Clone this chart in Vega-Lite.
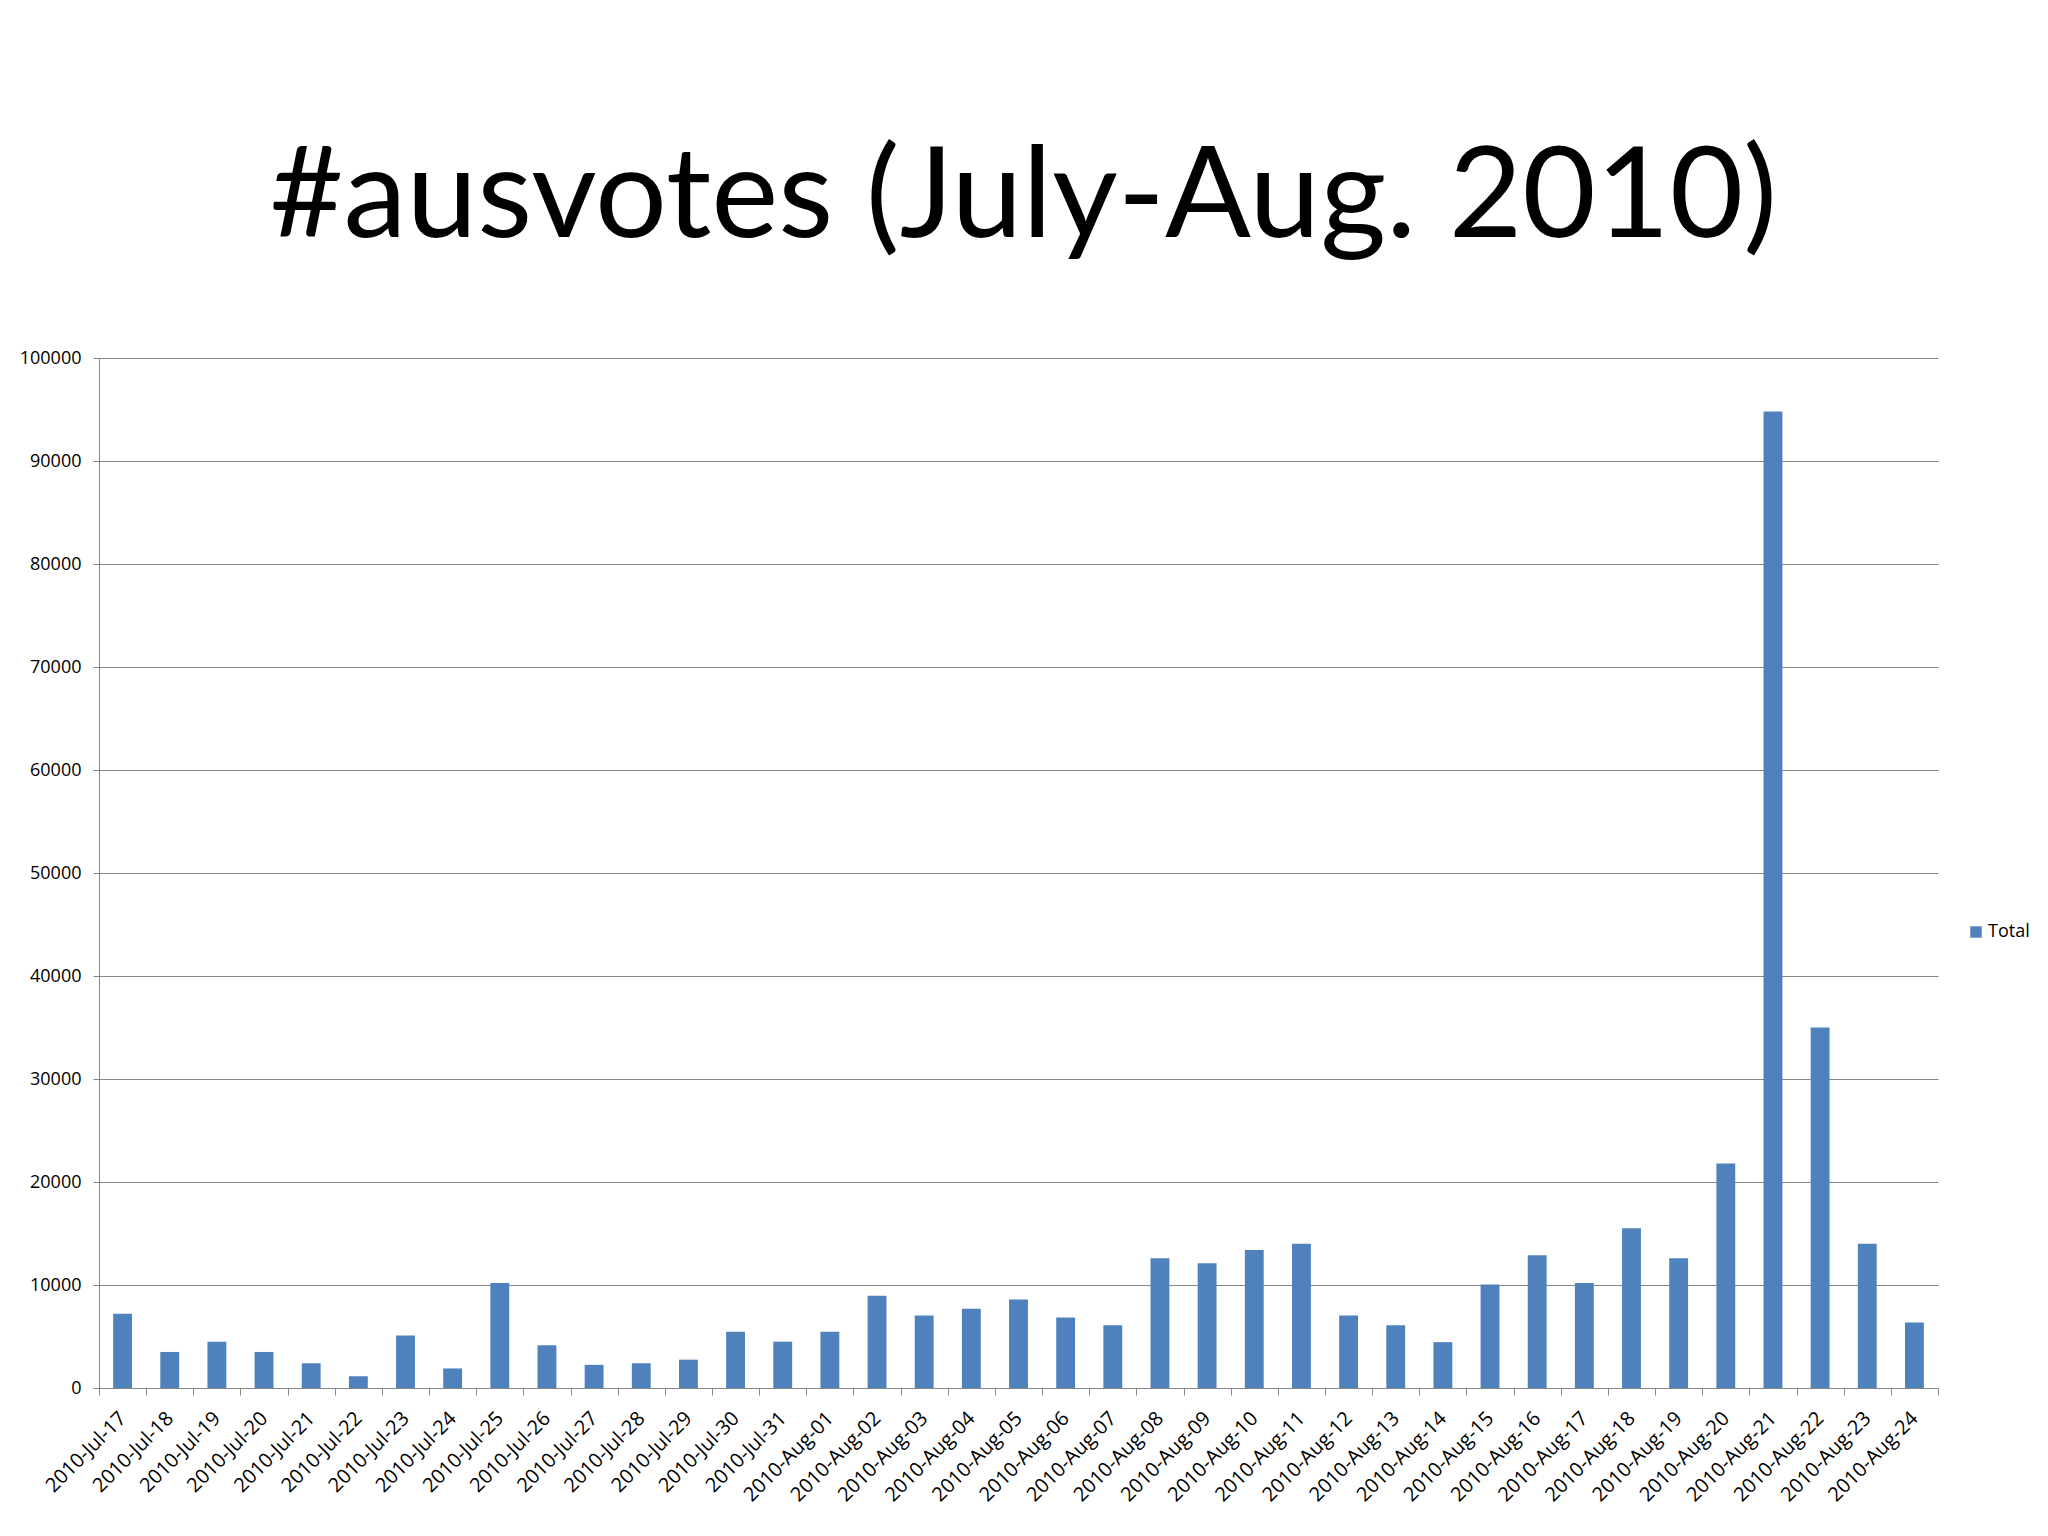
{
  "$schema": "https://vega.github.io/schema/vega-lite/v6.json",
  "width": 1839,
  "height": 1030,
  "autosize": {"type": "none"},
  "padding": {"left": 99, "top": 358, "right": 110, "bottom": 148},
  "background": "white",
  "title": {
    "text": "#ausvotes (July-Aug. 2010)",
    "font": "Lato",
    "fontSize": 127,
    "fontWeight": "normal",
    "color": "#000000",
    "anchor": "middle",
    "frame": "group",
    "offset": 85,
    "dx": 5
  },
  "data": {
    "values": [
      {"date": "2010-Jul-17", "total": 7200, "series": "Total"},
      {"date": "2010-Jul-18", "total": 3500, "series": "Total"},
      {"date": "2010-Jul-19", "total": 4500, "series": "Total"},
      {"date": "2010-Jul-20", "total": 3500, "series": "Total"},
      {"date": "2010-Jul-21", "total": 2400, "series": "Total"},
      {"date": "2010-Jul-22", "total": 1150, "series": "Total"},
      {"date": "2010-Jul-23", "total": 5100, "series": "Total"},
      {"date": "2010-Jul-24", "total": 1900, "series": "Total"},
      {"date": "2010-Jul-25", "total": 10200, "series": "Total"},
      {"date": "2010-Jul-26", "total": 4150, "series": "Total"},
      {"date": "2010-Jul-27", "total": 2250, "series": "Total"},
      {"date": "2010-Jul-28", "total": 2400, "series": "Total"},
      {"date": "2010-Jul-29", "total": 2750, "series": "Total"},
      {"date": "2010-Jul-30", "total": 5450, "series": "Total"},
      {"date": "2010-Jul-31", "total": 4500, "series": "Total"},
      {"date": "2010-Aug-01", "total": 5450, "series": "Total"},
      {"date": "2010-Aug-02", "total": 8950, "series": "Total"},
      {"date": "2010-Aug-03", "total": 7050, "series": "Total"},
      {"date": "2010-Aug-04", "total": 7700, "series": "Total"},
      {"date": "2010-Aug-05", "total": 8600, "series": "Total"},
      {"date": "2010-Aug-06", "total": 6850, "series": "Total"},
      {"date": "2010-Aug-07", "total": 6100, "series": "Total"},
      {"date": "2010-Aug-08", "total": 12600, "series": "Total"},
      {"date": "2010-Aug-09", "total": 12100, "series": "Total"},
      {"date": "2010-Aug-10", "total": 13400, "series": "Total"},
      {"date": "2010-Aug-11", "total": 14000, "series": "Total"},
      {"date": "2010-Aug-12", "total": 7050, "series": "Total"},
      {"date": "2010-Aug-13", "total": 6100, "series": "Total"},
      {"date": "2010-Aug-14", "total": 4450, "series": "Total"},
      {"date": "2010-Aug-15", "total": 10050, "series": "Total"},
      {"date": "2010-Aug-16", "total": 12900, "series": "Total"},
      {"date": "2010-Aug-17", "total": 10200, "series": "Total"},
      {"date": "2010-Aug-18", "total": 15500, "series": "Total"},
      {"date": "2010-Aug-19", "total": 12600, "series": "Total"},
      {"date": "2010-Aug-20", "total": 21800, "series": "Total"},
      {"date": "2010-Aug-21", "total": 94800, "series": "Total"},
      {"date": "2010-Aug-22", "total": 35000, "series": "Total"},
      {"date": "2010-Aug-23", "total": 14000, "series": "Total"},
      {"date": "2010-Aug-24", "total": 6350, "series": "Total"}
    ]
  },
  "mark": {"type": "bar", "width": {"band": 0.4}},
  "encoding": {
    "x": {
      "field": "date",
      "type": "nominal",
      "sort": null,
      "scale": {"paddingInner": 0, "paddingOuter": 0},
      "axis": {
        "title": null,
        "tickBand": "extent",
        "labelAngle": -45,
        "labelAlign": "right",
        "labelBaseline": "middle",
        "labelFont": "Open Sans",
        "labelFontSize": 20,
        "labelColor": "#000000",
        "labelPadding": 20,
        "labelOverlap": false,
        "labelBound": false,
        "domainColor": "#868686",
        "tickColor": "#868686",
        "tickSize": 7,
        "grid": false
      }
    },
    "y": {
      "field": "total",
      "type": "quantitative",
      "scale": {"domain": [0, 100000], "nice": false},
      "axis": {
        "title": null,
        "values": [0, 10000, 20000, 30000, 40000, 50000, 60000, 70000, 80000, 90000, 100000],
        "format": "d",
        "grid": true,
        "gridColor": "#868686",
        "domainColor": "#868686",
        "tickColor": "#868686",
        "tickSize": 6,
        "labelPadding": 12,
        "labelFont": "Open Sans",
        "labelFontSize": 18,
        "labelColor": "#000000"
      }
    },
    "color": {
      "field": "series",
      "type": "nominal",
      "scale": {"range": ["#4F81BD"]},
      "legend": {
        "title": null,
        "orient": "none",
        "legendX": 1868,
        "legendY": 565,
        "padding": 0,
        "symbolType": "square",
        "symbolSize": 130,
        "symbolStrokeWidth": 0,
        "labelFont": "Open Sans",
        "labelFontSize": 18,
        "labelColor": "#000000",
        "labelOffset": 3
      }
    }
  },
  "config": {"view": {"stroke": null}}
}
